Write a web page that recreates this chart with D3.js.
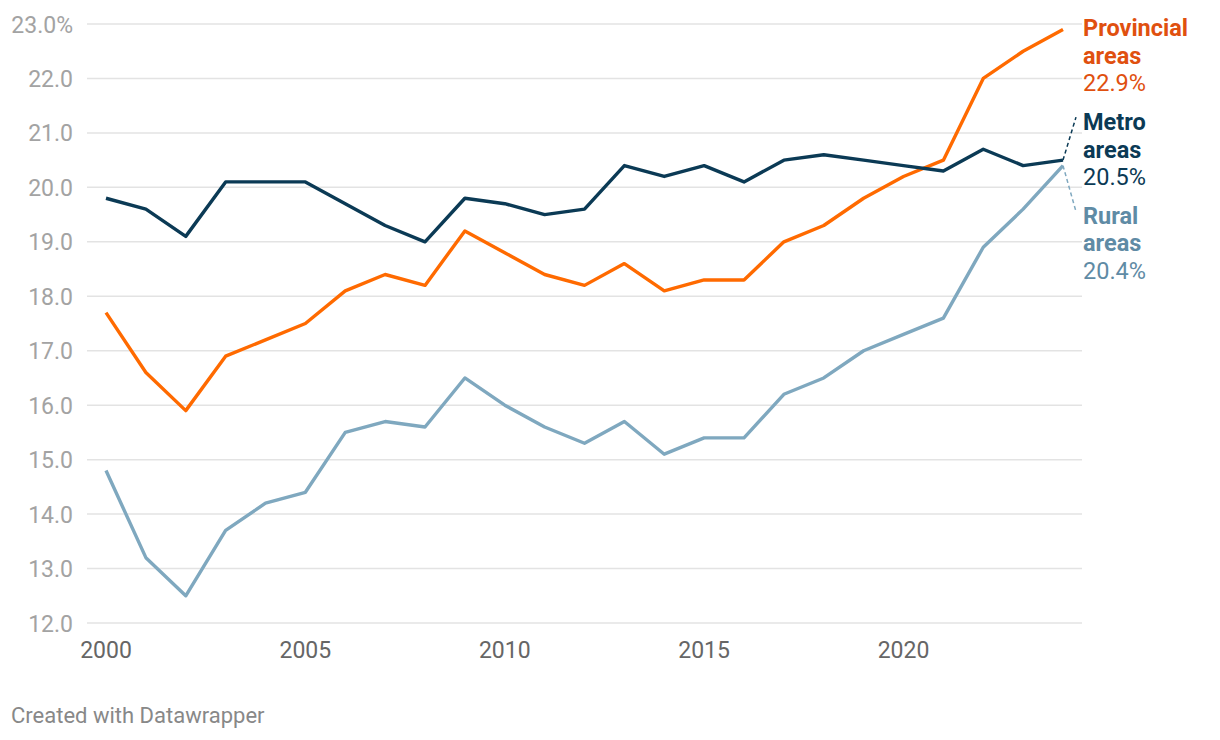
<!DOCTYPE html>
<html>
<head>
<meta charset="utf-8">
<script src="https://cdn.jsdelivr.net/npm/d3@7"></script>
<style>
  body { margin: 0; background: #fff; font-family: Roboto, "Noto Sans", sans-serif; }
  svg text { font-family: Roboto, "Noto Sans", sans-serif; }
</style>
</head>
<body>
<svg id="chart" width="1220" height="740"></svg>
<script>
const years = d3.range(2000, 2025);
const metro = [19.8, 19.6, 19.1, 20.1, 20.1, 20.1, 19.7, 19.3, 19.0, 19.8, 19.7, 19.5, 19.6,
  20.4, 20.2, 20.4, 20.1, 20.5, 20.6, 20.5, 20.4, 20.3, 20.7, 20.4, 20.5];
const provincial = [17.7, 16.6, 15.9, 16.9, 17.2, 17.5, 18.1, 18.4, 18.2, 19.2, 18.8, 18.4, 18.2,
  18.6, 18.1, 18.3, 18.3, 19.0, 19.3, 19.8, 20.2, 20.5, 22.0, 22.5, 22.9];
const rural = [14.8, 13.2, 12.5, 13.7, 14.2, 14.4, 15.5, 15.7, 15.6, 16.5, 16.0, 15.6, 15.3,
  15.7, 15.1, 15.4, 15.4, 16.2, 16.5, 17.0, 17.3, 17.6, 18.9, 19.6, 20.4];
const yTicks = [12, 13, 14, 15, 16, 17, 18, 19, 20, 21, 22, 23];
const xTicks = [2000, 2005, 2010, 2015, 2020];

const series = [
  { name: 'Metro', values: metro, line: '#0b3a55', label: '#0b3a55' },
  { name: 'Provincial', values: provincial, line: '#ff6a00', label: '#e0500f' },
  { name: 'Rural', values: rural, line: '#7fa8bf', label: '#5f8ba5' }
];

// label placement (pixel shift of first baseline from the line end)
const labelShift = { Metro: -30, Provincial: 6.6, Rural: 58 };
// dashed connector end (pixel shift from the line end)
const connShift = { Metro: -43, Rural: 46 };

const svg = d3.select('#chart');
const x = d3.scaleLinear().domain([2000, 2024]).range([106, 1063]);
const y = d3.scaleLinear().domain([12, 23]).range([623, 24]);

// Grid
svg.append('g')
  .selectAll('line')
  .data(yTicks)
  .join('line')
  .attr('x1', 87).attr('x2', 1082)
  .attr('y1', d => y(d)).attr('y2', d => y(d))
  .attr('stroke', '#e3e3e3')
  .attr('stroke-width', 1.5);

// Y labels
svg.append('g')
  .selectAll('text')
  .data(yTicks)
  .join('text')
  .attr('x', 73)
  .attr('y', d => y(d) + 8.5)
  .attr('text-anchor', 'end')
  .attr('fill', '#a3a3a3')
  .attr('font-size', 23)
  .text(d => d === 23 ? d.toFixed(1) + '%' : d.toFixed(1));

// X labels
svg.append('g')
  .selectAll('text')
  .data(xTicks)
  .join('text')
  .attr('x', d => x(d))
  .attr('y', 658)
  .attr('text-anchor', 'middle')
  .attr('fill', '#666')
  .attr('font-size', 23)
  .text(d => d);

const line = d3.line()
  .x((d, i) => x(years[i]))
  .y(d => y(d));

// Lines (rural first so it sits below)
[series[2], series[1], series[0]].forEach(s => {
  svg.append('path')
    .attr('d', line(s.values))
    .attr('fill', 'none')
    .attr('stroke', s.line)
    .attr('stroke-width', 3.4)
    .attr('stroke-linejoin', 'round');
});

// Dashed connectors for metro and rural labels
const last = years.length - 1;
[series[0], series[2]].forEach(s => {
  const y0 = y(s.values[last]);
  svg.append('line')
    .attr('x1', x(2024)).attr('y1', y0)
    .attr('x2', x(2024) + 13).attr('y2', y0 + connShift[s.name])
    .attr('stroke', s.line)
    .attr('stroke-width', 1.5)
    .attr('stroke-dasharray', '4,3');
});

// End labels
series.forEach(s => {
  const top = y(s.values[last]) + labelShift[s.name];
  const t = svg.append('text')
    .attr('x', 1083)
    .attr('y', top)
    .attr('fill', s.label)
    .attr('font-size', 23.5);
  t.append('tspan').attr('x', 1083).attr('font-weight', 700).text(s.name);
  t.append('tspan').attr('x', 1083).attr('dy', 27.5).attr('font-weight', 700).text('areas');
  t.append('tspan').attr('x', 1083).attr('dy', 27.5).text(s.values[last].toFixed(1) + '%');
});

// Footer
svg.append('text')
  .attr('x', 11)
  .attr('y', 723)
  .attr('fill', '#888')
  .attr('font-size', 22)
  .text('Created with Datawrapper');
</script>
</body>
</html>
